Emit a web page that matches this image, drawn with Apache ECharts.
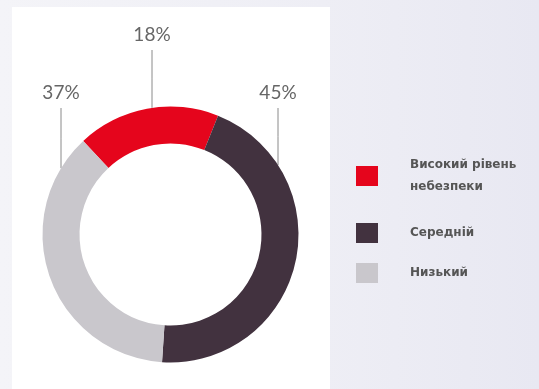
<!DOCTYPE html>
<html><head><meta charset="utf-8">
<script src="https://cdn.jsdelivr.net/npm/echarts@6/dist/echarts.min.js"></script>
<style>
html,body{margin:0;padding:0;width:539px;height:389px;overflow:hidden;
background:linear-gradient(90deg,#f4f4f8 0%,#eeeef5 60%,#e8e8f2 100%);}
#panel{position:absolute;left:12px;top:7px;width:318px;height:382px;background:#ffffff;}
#main{position:absolute;left:0;top:0;width:539px;height:389px;}
</style></head>
<body><div id="panel"></div><div id="main"></div>
<script>
const categories = ['Високий рівень\nнебезпеки', 'Середній', 'Низький'];
const values = [18, 45, 37];
const colors = ['#e5051c', '#42323f', '#c9c7cc'];

// label placement (layout only)
const labelX = [152, 278, 61];
const labelY = [35, 93, 93];
const lineTop = [50, 108, 108];
const legendTops = [149, 217, 257];

const CX = 170.5, CY = 234.5, R_IN = 91, R_OUT = 128;

const chart = echarts.init(document.getElementById('main'));
chart.setOption({
  animation: false,
  backgroundColor: 'transparent',
  legend: categories.map((n, i) => ({
    data: [n], orient: 'vertical', left: 351, top: legendTops[i],
    icon: 'rect', itemWidth: 22, itemHeight: 20, selectedMode: false,
    textStyle: { color: '#555', fontFamily: 'DejaVu Sans', fontSize: 12, fontWeight: 'bold', lineHeight: 22, padding: [0,0,0,27] }
  })),
  series: [{
    type: 'pie',
    center: [CX, CY],
    radius: [R_IN, R_OUT],
    startAngle: 133,
    clockwise: true,
    avoidLabelOverlap: false,
    data: categories.map((n, i) => ({ name: n, value: values[i], itemStyle: { color: colors[i] } })),
    label: {
      show: true, position: 'outside',
      formatter: p => p.value + '%',
      color: '#666', fontFamily: 'Lato', fontSize: 19, fontWeight: 'normal'
    },
    labelLine: { show: true, length: 10, length2: 10, lineStyle: { color: '#8a8a8a', width: 1 } },
    labelLayout: function (params) {
      const i = params.dataIndex;
      const x = labelX[i];
      const dx = x - CX;
      const ringY = CY - Math.sqrt(R_OUT * R_OUT - dx * dx);
      return {
        x: x, y: labelY[i], align: 'center', verticalAlign: 'middle',
        labelLinePoints: [[x, ringY], [x, (ringY + lineTop[i]) / 2], [x, lineTop[i]]]
      };
    }
  }]
});
</script></body></html>
